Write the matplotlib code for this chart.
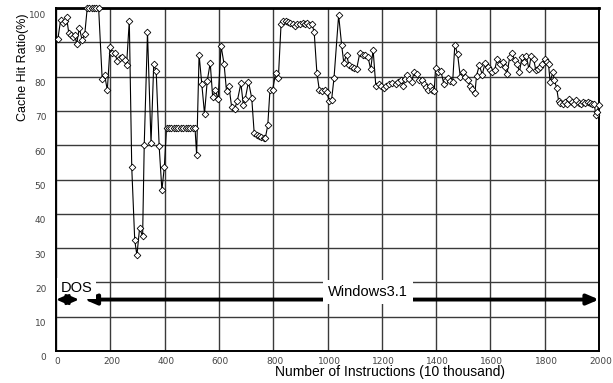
import matplotlib
matplotlib.use("Agg")
import matplotlib.pyplot as plt
import matplotlib.transforms as mtrans

plt.rcParams['font.family'] = ['Liberation Sans', 'DejaVu Sans']

# ---- data ----
instructions = [7, 17, 26, 32, 39, 47, 54, 61, 69, 76, 86, 96, 106, 115, 123, 131, 140, 148, 157,
                170, 179, 189, 199, 207, 216, 226, 236, 244, 254, 260, 270, 279, 290, 298, 308, 319,
                325, 337, 350, 360, 369, 380, 390, 399,
                407, 416, 424, 433, 442, 451, 459, 468, 477, 486, 494, 503, 512,
                518, 527, 537, 547, 557, 568, 577, 587, 597, 608, 619, 628, 637, 647, 658, 668,
                681, 690, 697, 709, 721, 730, 739, 747, 756, 765, 771, 780, 788, 798, 809, 819,
                829, 837, 846, 854, 863, 872, 881, 889, 898, 908, 917, 925, 933, 943, 951,
                961, 970, 979, 989, 997, 1006, 1015, 1024, 1041, 1052, 1060, 1070, 1079, 1089,
                1097, 1107, 1119, 1129, 1139, 1149, 1159, 1168, 1178, 1189, 1198, 1208, 1217,
                1227, 1237, 1252, 1260, 1270, 1279, 1285, 1294, 1302, 1310, 1319, 1329, 1337,
                1347, 1354, 1362, 1371, 1378, 1386, 1393, 1398, 1408, 1418, 1429, 1436, 1445,
                1453, 1461, 1469, 1479, 1489, 1500, 1506, 1516, 1524, 1533, 1543, 1549, 1559,
                1570, 1580, 1590, 1598, 1607, 1616, 1625, 1637, 1646, 1652, 1661, 1671, 1679,
                1689, 1699, 1707, 1716, 1723, 1732, 1742, 1750, 1759, 1767, 1775, 1783, 1791,
                1800, 1807, 1814, 1820, 1830, 1836, 1844, 1851, 1858, 1867, 1875, 1883, 1891,
                1900, 1907, 1916, 1925, 1932, 1940, 1949, 1959, 1967, 1975, 1983, 1988, 1993, 1999]

hit_ratio = [91.0, 96.5, 95.6, 96.3, 97.3, 92.7, 92.0, 91.5, 92.2, 89.5, 94.2, 90.7, 92.4,
             100, 100, 100, 100, 100, 100,
             79.4, 80.6, 76.0, 88.6, 87.0, 87.0, 84.5, 85.3, 85.7, 84.8, 83.5, 96.3, 53.5,
             32.3, 27.9, 35.9, 33.4, 60.2, 92.9, 60.6, 83.7, 81.5, 59.7, 46.9, 53.6,
             65.0, 65.0, 65.0, 65.0, 65.0, 65.0, 65.0, 65.0, 65.0, 65.0, 65.0, 65.0, 65.0,
             57.2, 86.4, 77.9, 69.2, 78.7, 84.0, 74.1, 76.0, 73.4, 88.9, 83.7, 75.8, 77.2,
             71.1, 70.6, 73.0, 78.0, 71.8, 73.5, 78.5, 73.7, 63.5, 63.0, 62.7, 62.4, 62.1,
             62.1, 65.8, 76.0, 76.2, 81.0, 79.6,
             95.4, 96.1, 96.3, 96.0, 95.6, 95.3, 94.7, 95.3, 95.3, 95.6, 95.2, 95.5, 94.9,
             95.3, 92.9, 81.0, 76.0, 75.9, 76.1, 75.5, 73.0, 73.2, 79.6, 97.9, 89.3, 84.0,
             86.4, 83.4, 82.9, 82.6, 82.1, 86.9, 86.4, 86.3, 85.8, 82.1, 87.8, 77.2, 77.9,
             77.2, 76.7, 77.4, 77.9, 78.1, 77.9, 78.4, 79.1, 77.2, 79.4, 80.6, 79.4, 78.4,
             81.3, 80.8, 78.9, 79.1, 77.7, 76.9, 76.2, 77.4, 76.0, 75.8, 82.5, 81.3, 81.5,
             77.7, 78.9, 79.6, 78.7, 78.4, 89.3, 86.6, 80.0, 81.3, 80.0, 79.1, 77.4, 76.5,
             75.2, 80.3, 83.3, 80.6, 83.9, 82.7, 81.8, 81.3, 82.0, 85.2, 83.7, 84.2, 82.7,
             80.8, 85.6, 86.8, 84.9, 83.7, 81.3, 85.6, 84.2, 86.1, 82.1, 86.1, 85.2, 82.0,
             82.3, 82.7, 83.7, 85.2, 84.2, 83.7, 78.4, 81.3, 78.9, 76.7, 73.0, 72.3, 71.9,
             72.6, 72.1, 73.5, 72.6, 71.9, 73.2, 72.3, 71.9, 72.6, 72.3, 72.6, 72.3, 72.1,
             71.9, 68.7, 69.6, 71.6]

x_ticks = [0, 200, 400, 600, 800, 1000, 1200, 1400, 1600, 1800, 2000]
y_ticks = [0, 10, 20, 30, 40, 50, 60, 70, 80, 90, 100]

dos_span = (0, 85)
win_span = (105, 2000)
arrow_level = 15

fig = plt.figure(figsize=(6.13, 3.83), dpi=100)
ax = fig.add_axes([56 / 613, 1 - 351 / 383, 543 / 613, 343 / 383])

ax.set_xlim(0, 2000)
ax.set_ylim(0, 100)
ax.set_xticks(x_ticks)
ax.set_yticks(y_ticks)
ax.set_xticklabels([str(v) for v in x_ticks], fontsize=6.5, color='#444444',
                   family='DejaVu Sans')
ax.set_yticklabels([str(v) for v in y_ticks], fontsize=6.5, color='#444444',
                   family='DejaVu Sans')
ax.tick_params(axis='both', length=0)
ax.tick_params(axis='y', pad=7)
ax.tick_params(axis='x', pad=4.5)

offset = mtrans.ScaledTranslation(0, -6 / 100, fig.dpi_scale_trans)
for lab in ax.get_yticklabels():
    lab.set_transform(lab.get_transform() + offset)
xoff = mtrans.ScaledTranslation(1.5 / 100, 0, fig.dpi_scale_trans)
for lab in ax.get_xticklabels():
    lab.set_transform(lab.get_transform() + xoff)

ax.grid(True, color='#3a3a3a', linewidth=1.0)
ax.set_axisbelow(True)
for side in ['left', 'bottom', 'right']:
    ax.spines[side].set_linewidth(1.4)
    ax.spines[side].set_color('black')
ax.spines['top'].set_linewidth(2.0)

ax.plot(instructions, hit_ratio, color='black', linewidth=0.8,
        marker='D', markersize=3.4, markerfacecolor='white',
        markeredgecolor='black', markeredgewidth=0.6, clip_on=False, zorder=5)

# arrows
ax.annotate('', xy=(dos_span[0], arrow_level), xytext=(dos_span[1], arrow_level),
            arrowprops=dict(arrowstyle='<|-|>,head_length=0.7,head_width=0.3',
                            color='black', lw=2.0, shrinkA=0, shrinkB=0), zorder=9)
ax.annotate('', xy=(win_span[0], arrow_level), xytext=(win_span[1], arrow_level),
            arrowprops=dict(arrowstyle='<|-|>,head_length=0.7,head_width=0.3',
                            color='black', lw=2.8, shrinkA=0, shrinkB=0), zorder=6)

ax.text(75, 18.3, 'DOS', fontsize=10.5, ha='center', va='center', zorder=7,
        bbox=dict(facecolor='white', edgecolor='none', pad=2.5))
ax.text(1150, 17.2, 'Windows3.1', fontsize=10.5, ha='center', va='center', zorder=7,
        bbox=dict(facecolor='white', edgecolor='none', pad=3.5))

fig.text(23 / 613, 1 - 67 / 383, 'Cache Hit Ratio(%)', rotation=90,
         ha='center', va='center', fontsize=9)
fig.text(390 / 613, 1 - 372 / 383, 'Number of Instructions (10 thousand)',
         ha='center', va='center', fontsize=10)

fig.savefig('out.png', dpi=100)
